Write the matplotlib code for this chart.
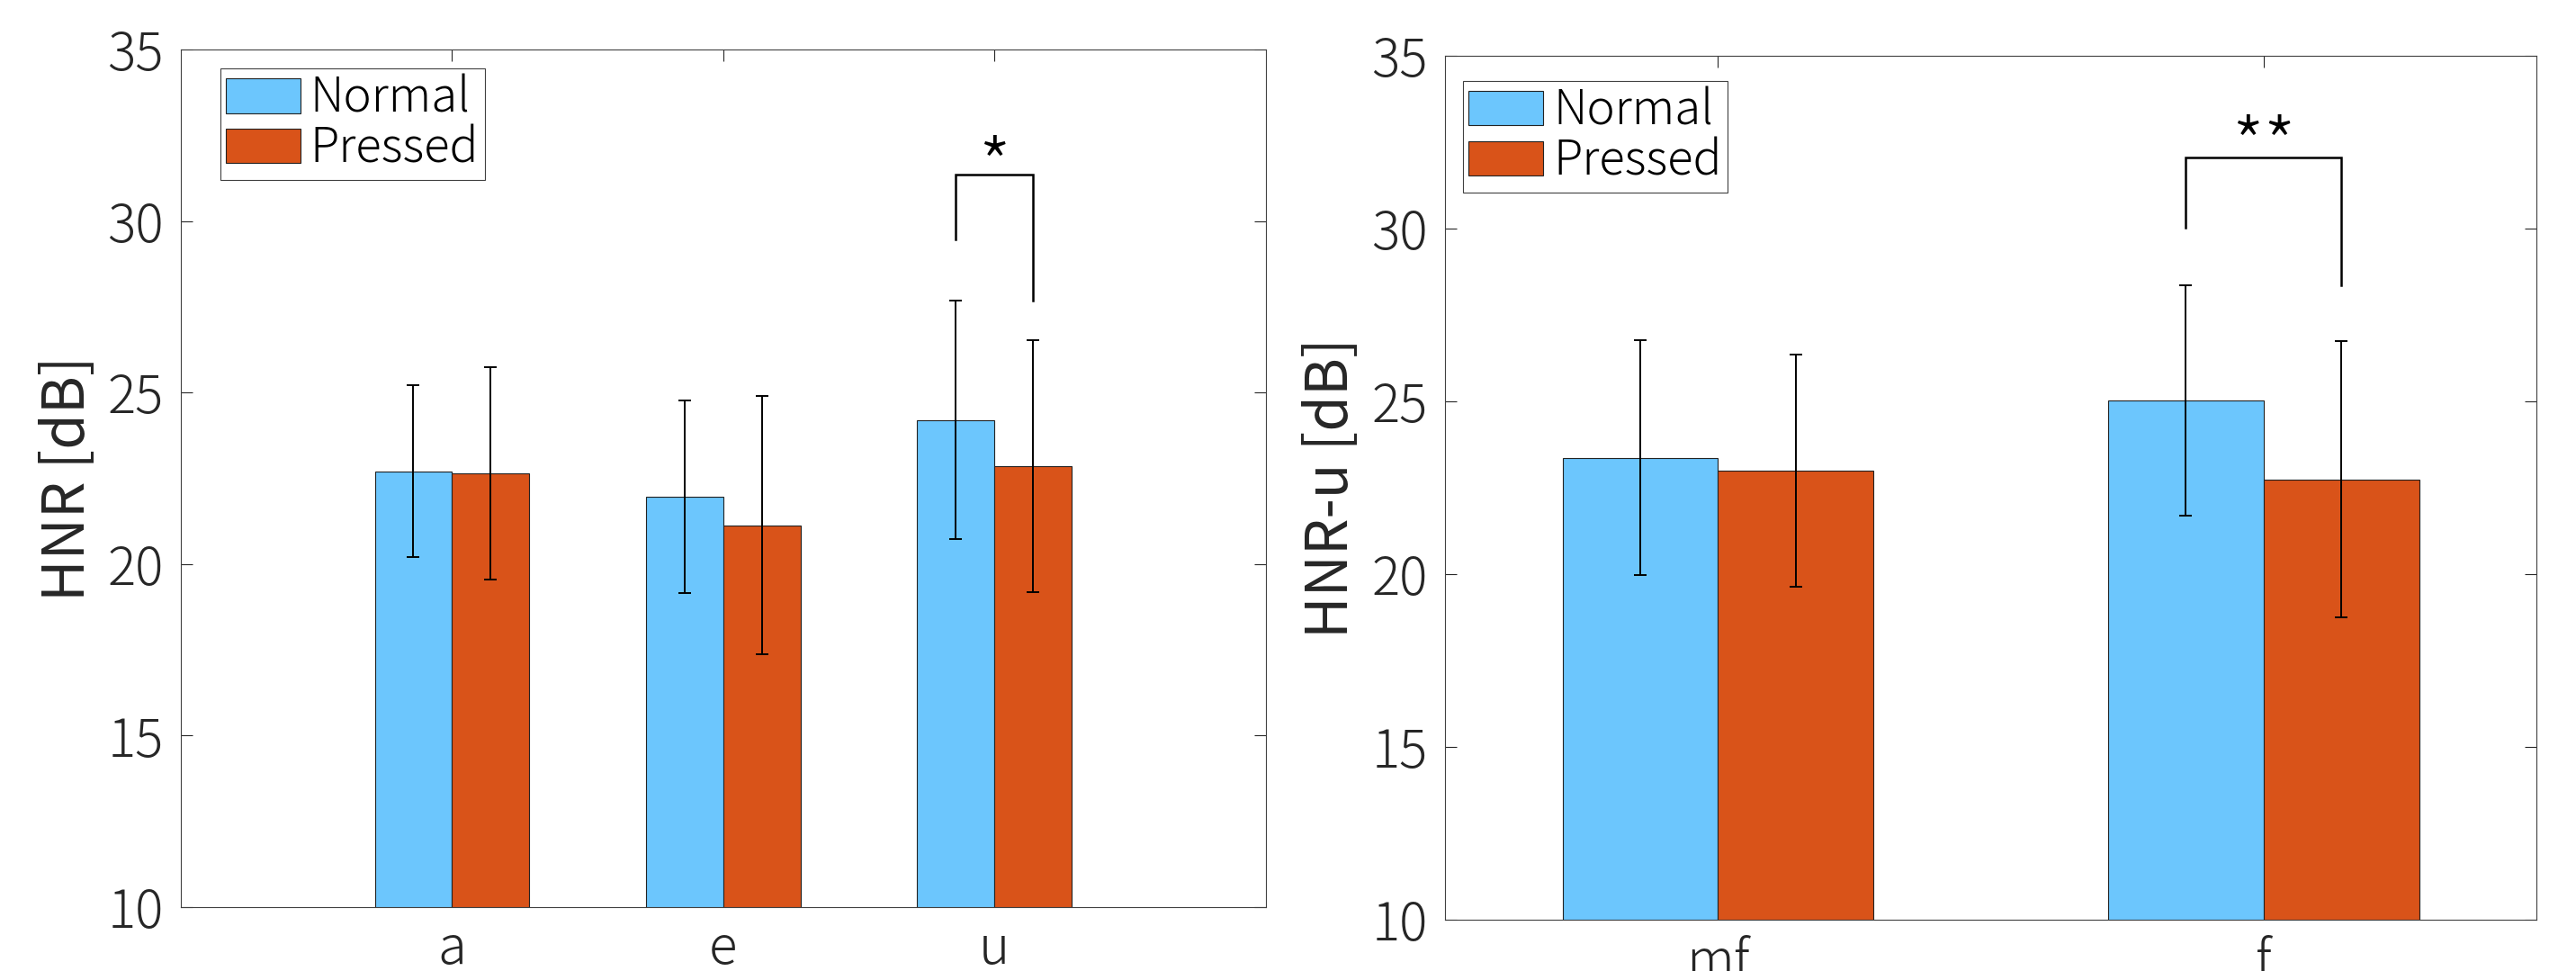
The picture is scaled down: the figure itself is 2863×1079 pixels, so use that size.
import matplotlib.pyplot as plt
import numpy as np

plt.rcParams['font.family'] = ['Noto Sans CJK JP', 'DejaVu Sans']
plt.rcParams['font.weight'] = 'light'

# left panel: HNR per vowel
vowels = ['a', 'e', 'u']
hnr_normal = [22.71, 21.96, 24.20]
hnr_normal_err = [2.50, 2.80, 3.47]
hnr_pressed = [22.65, 21.13, 22.86]
hnr_pressed_err = [3.10, 3.77, 3.68]
# significance bracket: group index, left leg bottom, right leg bottom, top, label y, label
hnr_sig = [(2, 29.46, 27.67, 31.36, 31.45, '*')]

# right panel: HNR-u per dynamic
dynamics = ['mf', 'f']
hnru_normal = [23.37, 25.03]
hnru_normal_err = [3.40, 3.33]
hnru_pressed = [23.00, 22.74]
hnru_pressed_err = [3.36, 4.00]
hnru_sig = [(1, 30.02, 28.35, 32.06, 32.25, '**')]

series_names = ['Normal', 'Pressed']
c_normal = '#6CC6FD'
c_pressed = '#D95319'
axis_col = '#262626'
bar_w = 0.285


def draw_panel(ax, cats, normal, normal_err, pressed, pressed_err, sig, xlim, ylabel, leg_anchor):
    x = np.arange(1, len(cats) + 1)
    xn = x - bar_w / 2
    xp = x + bar_w / 2
    ax.bar(xn, normal, bar_w, color=c_normal, edgecolor='#222222', linewidth=0.8,
           label=series_names[0], zorder=2)
    ax.bar(xp, pressed, bar_w, color=c_pressed, edgecolor='#222222', linewidth=0.8,
           label=series_names[1], zorder=2)
    ax.errorbar(xn, normal, yerr=normal_err, fmt='none', ecolor='black', elinewidth=1.4,
                capsize=4.7, capthick=1.4, zorder=3)
    ax.errorbar(xp, pressed, yerr=pressed_err, fmt='none', ecolor='black', elinewidth=1.4,
                capsize=4.7, capthick=1.4, zorder=3)

    for gi, yl, yr, ytop, ytxt, lab in sig:
        ax.plot([xn[gi], xn[gi], xp[gi], xp[gi]], [yl, ytop, ytop, yr], color='black',
                lw=1.8, zorder=4, solid_joinstyle='miter')
        ax.text(x[gi], ytxt, lab, ha='center', va='center', fontsize=58, color='black')

    ax.set_xlim(*xlim)
    ax.set_ylim(10, 35)
    ax.set_yticks(np.arange(10, 36, 5))
    ax.set_xticks(x)
    ax.set_xticklabels(cats)
    ax.tick_params(axis='both', direction='in', length=9.5, width=0.8, colors=axis_col,
                   labelsize=42, top=True, right=True)
    ax.tick_params(axis='y', pad=14)
    ax.tick_params(axis='x', pad=12)
    for sp in ax.spines.values():
        sp.set_color('#404040')
        sp.set_linewidth(0.8)
    ax.set_ylabel(ylabel, fontsize=46, color=axis_col, va='center')
    ax.yaxis.set_label_coords(-0.104, 0.5)

    leg = ax.legend(loc='upper left', bbox_to_anchor=leg_anchor, fontsize=38,
                    handlelength=1.57, handleheight=0.74, handletextpad=0.2,
                    labelspacing=0.0, borderpad=0.12, borderaxespad=0,
                    fancybox=False, framealpha=1, edgecolor='#404040')
    leg.get_frame().set_linewidth(0.8)


fig = plt.figure(figsize=(28.63, 10.79), dpi=100)
ax1 = fig.add_axes([0.0702, 0.0658, 0.4212, 0.8832])
ax2 = fig.add_axes([0.5610, 0.0528, 0.4236, 0.8897])

draw_panel(ax1, vowels, hnr_normal, hnr_normal_err, hnr_pressed, hnr_pressed_err,
           hnr_sig, (0, 4), 'HNR [dB]', (0.0365, 0.978))
draw_panel(ax2, dynamics, hnru_normal, hnru_normal_err, hnru_pressed, hnru_pressed_err,
           hnru_sig, (0.5, 2.5), 'HNR-u [dB]', (0.0165, 0.971))

fig.savefig('out.png', dpi=100)
